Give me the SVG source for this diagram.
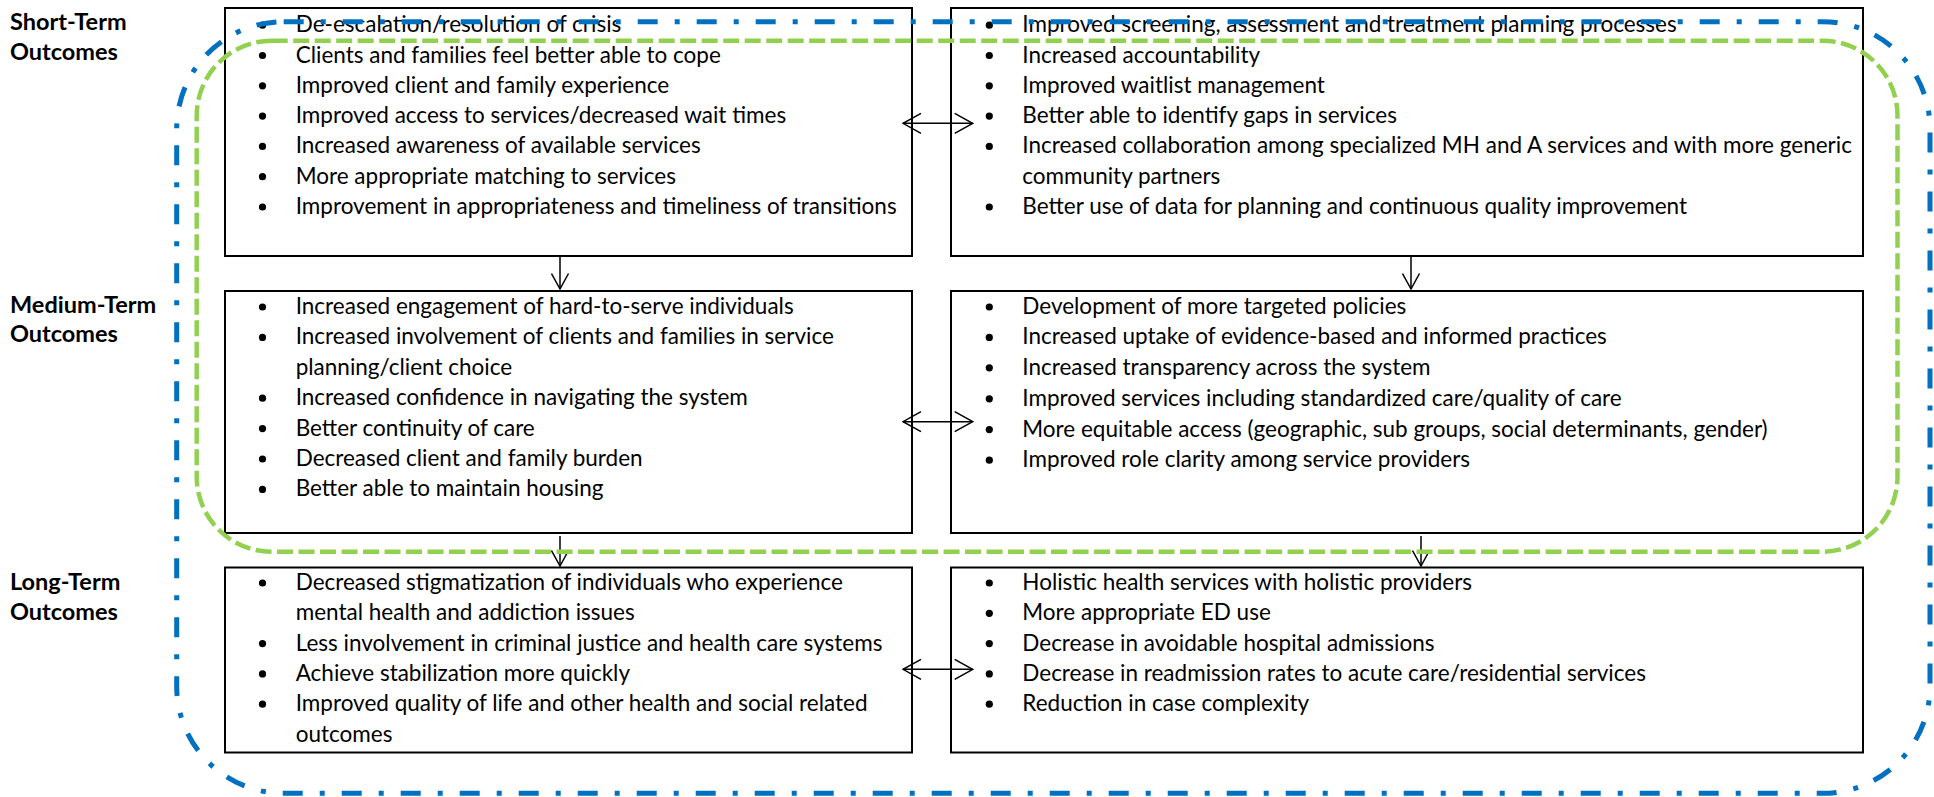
<svg xmlns="http://www.w3.org/2000/svg" width="1934" height="797" viewBox="0 0 1934 797">
  <style>
    .box { fill: #fff; stroke: #000; stroke-width: 2; }
    .txt { font-family: Lato, "Liberation Sans", sans-serif; font-size: 22.5px; fill: #000; }
    .lbl { font-family: Lato, "Liberation Sans", sans-serif; font-size: 23.5px; font-weight: bold; fill: #000; }
    .dot { fill: #000; }
    .conn { fill: none; stroke: #000; stroke-width: 1.5; }
    .green { fill: none; stroke: #92D050; stroke-width: 4.5; stroke-dasharray: 16 5.5; }
    .blue { fill: none; stroke: #0070C0; stroke-width: 5; stroke-dasharray: 20 17 5 17; }
  </style>
  <defs>
    <marker id="head-lg" viewBox="0 0 20 22" refX="19" refY="11" markerWidth="20" markerHeight="22" markerUnits="userSpaceOnUse" orient="auto-start-reverse">
      <path d="M1,1 L19,11 L1,21" fill="none" stroke="#000" stroke-width="1.5"/>
    </marker>
    <marker id="head-sm" viewBox="0 0 18 19" refX="16.5" refY="9.5" markerWidth="18" markerHeight="19" markerUnits="userSpaceOnUse" orient="auto">
      <path d="M1,1 L16.5,9.5 L1,18" fill="none" stroke="#000" stroke-width="1.5"/>
    </marker>
  </defs>

  <rect width="1934" height="797" fill="#fff"/>

  <!-- row labels -->
  <g id="label-short">
    <text class="lbl" x="10" y="30">Short-Term</text>
    <text class="lbl" x="10" y="60">Outcomes</text>
  </g>
  <g id="label-medium">
    <text class="lbl" x="10" y="313">Medium-Term</text>
    <text class="lbl" x="10" y="342">Outcomes</text>
  </g>
  <g id="label-long">
    <text class="lbl" x="10" y="590">Long-Term</text>
    <text class="lbl" x="10" y="620">Outcomes</text>
  </g>

  <!-- short-term, client side -->
  <g id="short-client">
    <rect class="box" x="225" y="8" width="687" height="248"/>
    <circle class="dot" cx="262.5" cy="25.2" r="3.6"/>
    <text class="txt" x="295.7" y="32.2">De-escalation/resolution of crisis</text>
    <circle class="dot" cx="262.5" cy="55.5" r="3.6"/>
    <text class="txt" x="295.7" y="62.5">Clients and families feel better able to cope</text>
    <circle class="dot" cx="262.5" cy="85.8" r="3.6"/>
    <text class="txt" x="295.7" y="92.8">Improved client and family experience</text>
    <circle class="dot" cx="262.5" cy="116.1" r="3.6"/>
    <text class="txt" x="295.7" y="123.1">Improved access to services/decreased wait times</text>
    <circle class="dot" cx="262.5" cy="146.4" r="3.6"/>
    <text class="txt" x="295.7" y="153.4">Increased awareness of available services</text>
    <circle class="dot" cx="262.5" cy="176.7" r="3.6"/>
    <text class="txt" x="295.7" y="183.7">More appropriate matching to services</text>
    <circle class="dot" cx="262.5" cy="207" r="3.6"/>
    <text class="txt" x="295.7" y="214">Improvement in appropriateness and timeliness of transitions</text>
  </g>

  <!-- short-term, system side -->
  <g id="short-system">
    <rect class="box" x="951" y="8" width="912" height="248"/>
    <circle class="dot" cx="989.3" cy="25.2" r="3.6"/>
    <text class="txt" x="1022.3" y="32.2">Improved screening, assessment and treatment planning processes</text>
    <circle class="dot" cx="989.3" cy="55.5" r="3.6"/>
    <text class="txt" x="1022.3" y="62.5">Increased accountability</text>
    <circle class="dot" cx="989.3" cy="85.8" r="3.6"/>
    <text class="txt" x="1022.3" y="92.8">Improved waitlist management</text>
    <circle class="dot" cx="989.3" cy="116.1" r="3.6"/>
    <text class="txt" x="1022.3" y="123.1">Better able to identify gaps in services</text>
    <circle class="dot" cx="989.3" cy="146.4" r="3.6"/>
    <text class="txt" x="1022.3" y="153.4">Increased collaboration among specialized MH and A services and with more generic</text>
    <text class="txt" x="1022.3" y="183.7">community partners</text>
    <circle class="dot" cx="989.3" cy="207" r="3.6"/>
    <text class="txt" x="1022.3" y="214">Better use of data for planning and continuous quality improvement</text>
  </g>

  <!-- medium-term, client side -->
  <g id="medium-client">
    <rect class="box" x="225" y="291" width="687" height="242"/>
    <circle class="dot" cx="262.5" cy="307" r="3.6"/>
    <text class="txt" x="295.7" y="314">Increased engagement of hard-to-serve individuals</text>
    <circle class="dot" cx="262.5" cy="337.4" r="3.6"/>
    <text class="txt" x="295.7" y="344.4">Increased involvement of clients and families in service</text>
    <text class="txt" x="295.7" y="374.8">planning/client choice</text>
    <circle class="dot" cx="262.5" cy="398.2" r="3.6"/>
    <text class="txt" x="295.7" y="405.2">Increased confidence in navigating the system</text>
    <circle class="dot" cx="262.5" cy="428.6" r="3.6"/>
    <text class="txt" x="295.7" y="435.6">Better continuity of care</text>
    <circle class="dot" cx="262.5" cy="459" r="3.6"/>
    <text class="txt" x="295.7" y="466">Decreased client and family burden</text>
    <circle class="dot" cx="262.5" cy="489.4" r="3.6"/>
    <text class="txt" x="295.7" y="496.4">Better able to maintain housing</text>
  </g>

  <!-- medium-term, system side -->
  <g id="medium-system">
    <rect class="box" x="951" y="291" width="912" height="242"/>
    <circle class="dot" cx="989.3" cy="307" r="3.6"/>
    <text class="txt" x="1022.3" y="314">Development of more targeted policies</text>
    <circle class="dot" cx="989.3" cy="337.4" r="3.6"/>
    <text class="txt" x="1022.3" y="344.4">Increased uptake of evidence-based and informed practices</text>
    <circle class="dot" cx="989.3" cy="367.8" r="3.6"/>
    <text class="txt" x="1022.3" y="374.8">Increased transparency across the system</text>
    <circle class="dot" cx="989.3" cy="398.8" r="3.6"/>
    <text class="txt" x="1022.3" y="405.8">Improved services including standardized care/quality of care</text>
    <circle class="dot" cx="989.3" cy="429.6" r="3.6"/>
    <text class="txt" x="1022.3" y="436.6">More equitable access (geographic, sub groups, social determinants, gender)</text>
    <circle class="dot" cx="989.3" cy="460.2" r="3.6"/>
    <text class="txt" x="1022.3" y="467.2">Improved role clarity among service providers</text>
  </g>

  <!-- long-term, client side -->
  <g id="long-client">
    <rect class="box" x="225" y="567.5" width="687" height="185"/>
    <circle class="dot" cx="262.5" cy="583" r="3.6"/>
    <text class="txt" x="295.7" y="590">Decreased stigmatization of individuals who experience</text>
    <text class="txt" x="295.7" y="620.3">mental health and addiction issues</text>
    <circle class="dot" cx="262.5" cy="643.6" r="3.6"/>
    <text class="txt" x="295.7" y="650.6">Less involvement in criminal justice and health care systems</text>
    <circle class="dot" cx="262.5" cy="673.9" r="3.6"/>
    <text class="txt" x="295.7" y="680.9">Achieve stabilization more quickly</text>
    <circle class="dot" cx="262.5" cy="704.2" r="3.6"/>
    <text class="txt" x="295.7" y="711.2">Improved quality of life and other health and social related</text>
    <text class="txt" x="295.7" y="741.5">outcomes</text>
  </g>

  <!-- long-term, system side -->
  <g id="long-system">
    <rect class="box" x="951" y="567.5" width="912" height="185"/>
    <circle class="dot" cx="989.3" cy="583" r="3.6"/>
    <text class="txt" x="1022.3" y="590">Holistic health services with holistic providers</text>
    <circle class="dot" cx="989.3" cy="613.3" r="3.6"/>
    <text class="txt" x="1022.3" y="620.3">More appropriate ED use</text>
    <circle class="dot" cx="989.3" cy="643.6" r="3.6"/>
    <text class="txt" x="1022.3" y="650.6">Decrease in avoidable hospital admissions</text>
    <circle class="dot" cx="989.3" cy="673.9" r="3.6"/>
    <text class="txt" x="1022.3" y="680.9">Decrease in readmission rates to acute care/residential services</text>
    <circle class="dot" cx="989.3" cy="704.2" r="3.6"/>
    <text class="txt" x="1022.3" y="711.2">Reduction in case complexity</text>
  </g>

  <!-- connectors -->
  <g id="connectors">
    <path class="conn" d="M903,123.3 H972.7" marker-start="url(#head-lg)" marker-end="url(#head-lg)"/>
    <path class="conn" d="M903,421.7 H972.7" marker-start="url(#head-lg)" marker-end="url(#head-lg)"/>
    <path class="conn" d="M903,669.3 H972.7" marker-start="url(#head-lg)" marker-end="url(#head-lg)"/>
    <path class="conn" d="M560,257 V289" marker-end="url(#head-sm)"/>
    <path class="conn" d="M560,536 V566" marker-end="url(#head-sm)"/>
    <path class="conn" d="M1411,257 V289" marker-end="url(#head-sm)"/>
    <path class="conn" d="M1421,536 V566" marker-end="url(#head-sm)"/>
  </g>

  <!-- grouping outlines -->
  <g id="outline-outer">
    <rect class="blue" x="176.7" y="21.7" width="1753.3" height="771.6" rx="107" ry="107"/>
  </g>
  <g id="outline-inner">
    <rect class="green" x="196.7" y="40.7" width="1700.8" height="511" rx="75" ry="75"/>
  </g>
</svg>
